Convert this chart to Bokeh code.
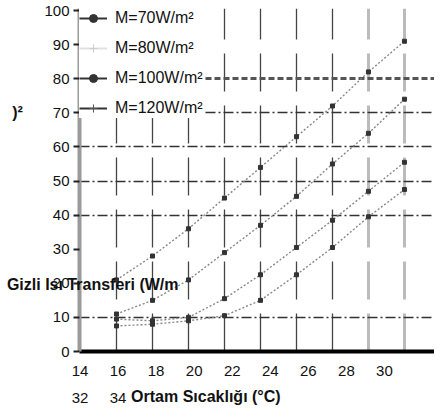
from bokeh.plotting import figure
from bokeh.models import (Range1d, LinearAxis, FixedTicker, Legend, LegendItem,
                          Grid)
from bokeh.embed import file_html
from bokeh.resources import INLINE

# ---------------- data ----------------
temps = [16, 18, 20, 22, 24, 26, 28, 30, 32]
m120 = [21, 28, 36, 45, 54, 63, 72, 82, 91]
m100 = [11, 15, 21, 29, 37, 45.5, 55, 64, 74]
m80 = [9.5, 9, 10, 15.5, 22.5, 30.5, 38.5, 47, 55.5]
m70 = [7.5, 8, 9, 10.5, 15, 22.5, 30.5, 39.5, 47.5]
legend_labels = ["M=70W/m²", "M=80W/m²", "M=100W/m²", "M=120W/m²"]
x_ticks = [14, 16, 18, 20, 22, 24, 26, 28, 30]
x_ticks_wrapped = ["32", "34"]
y_ticks = [0, 10, 20, 30, 40, 50, 60, 70, 80, 90, 100]
x_title = "Ortam Sıcaklığı (°C)"
y_title = "Gizli Isı Transferi (W/m"
y_title_tail = ")²"
dark_grid_x = [16, 18, 20, 22, 24, 26, 28]
light_grid_x = [30, 32]
grid_y = [10, 40, 50, 60, 70]
thick_grid_y = [80]

FONT = "Liberation Sans"
NB = "\u00a0"
W, H = 434, 407

p = figure(width=W, height=H, output_backend="svg", toolbar_location=None,
           x_range=Range1d(13.944, 33.67), y_range=Range1d(0, 100.6),
           min_border_left=79, min_border_right=0, min_border_top=8,
           min_border_bottom=54, x_axis_location=None)
p.outline_line_color = None
p.background_fill_color = "white"
p.border_fill_color = "white"
p.xgrid.visible = False
p.ygrid.visible = False

# label axis (tick labels are slightly stretched vs. the data grid in the original)
p.extra_x_ranges = {"lab": Range1d(13.974, 32.63)}
xax = LinearAxis(x_range_name="lab", ticker=FixedTicker(ticks=x_ticks))
xax.axis_line_color = "black"
xax.axis_line_width = 4
xax.major_tick_line_color = None
xax.minor_tick_line_color = None
xax.major_label_standoff = 8
xax.major_label_text_font = FONT
xax.major_label_text_font_size = "15px"
xax.major_label_text_color = "#111"
p.add_layout(xax, "below")

# wrapped second row of the x axis: "32  34  Ortam Sıcaklığı (°C)"
xax2 = LinearAxis(x_range_name="lab", ticker=FixedTicker(ticks=x_ticks[:2]),
                  major_label_overrides={t: s for t, s in zip(x_ticks[:2], x_ticks_wrapped)})
xax2.axis_line_color = None
xax2.major_tick_line_color = None
xax2.minor_tick_line_color = None
xax2.major_label_standoff = 8
xax2.major_label_text_font = FONT
xax2.major_label_text_font_size = "15px"
xax2.major_label_text_color = "#111"
xax2.axis_label_text_font = FONT
xax2.axis_label_text_font_size = "16px"
xax2.axis_label_text_font_style = "bold"
xax2.axis_label_text_color = "#111"
xax2.axis_label_standoff = -18
xax2.axis_label = x_title + NB * 23
p.add_layout(xax2, "below")

yax = p.yaxis[0]
yax.ticker = FixedTicker(ticks=y_ticks)
yax.axis_line_color = "#9a9a9a"
yax.axis_line_width = 4
yax.major_tick_out = 6
yax.major_tick_in = 0
yax.major_tick_line_color = "#222"
yax.major_tick_line_width = 2
yax.minor_tick_line_color = None
yax.major_label_standoff = 4
yax.major_label_text_font = FONT
yax.major_label_text_font_size = "15px"
yax.major_label_text_color = "#111"

# horizontal y title (drawn as labels of an extra, line-less left axis)
ytitle_pos = [19.6, 70.0]
yax2 = LinearAxis(ticker=FixedTicker(ticks=ytitle_pos),
                  major_label_overrides={ytitle_pos[0]: y_title,
                                         ytitle_pos[1]: y_title_tail + NB * 35})
yax2.axis_line_color = None
yax2.major_tick_line_color = None
yax2.minor_tick_line_color = None
yax2.major_tick_out = 0
yax2.major_label_standoff = -137
yax2.major_label_text_font = FONT
yax2.major_label_text_font_size = "16px"
yax2.major_label_text_font_style = "bold"
yax2.major_label_text_color = "#111"
p.add_layout(yax2, "left")

# grids
p.add_layout(Grid(dimension=0, ticker=FixedTicker(ticks=dark_grid_x),
                  grid_line_color="#444", grid_line_width=1.3,
                  grid_line_dash="38 14"))
p.add_layout(Grid(dimension=0, ticker=FixedTicker(ticks=light_grid_x),
                  grid_line_color="#bbb", grid_line_width=3,
                  grid_line_dash="38 14"))
p.add_layout(Grid(dimension=1, ticker=FixedTicker(ticks=grid_y),
                  grid_line_color="#333", grid_line_width=1.3,
                  grid_line_dash="10 3 2 3"))
p.add_layout(Grid(dimension=1, ticker=FixedTicker(ticks=thick_grid_y),
                  grid_line_color="#555", grid_line_width=3,
                  grid_line_dash="6 3"))

# curves
series = [m70, m80, m100, m120]
for ys in series:
    p.line(temps, ys, line_color="#888", line_width=1.4, line_dash="2 2")
    p.scatter(temps, ys, marker="square", size=4, color="#333")

# legend-only renderers (hidden on the plot, shown in the legend)
styles = [("circle", 7, "#333", "#333"),
          ("cross", 6, "#ccc", "#e0e0e0"),
          ("circle", 3, "#333", "#333"),
          ("cross", 7, "#555", "#333")]
items = []
for lab, ys, (mk, sz, mc, lc) in zip(legend_labels, series, styles):
    r1 = p.line(temps, ys, line_color=lc, line_width=2, visible=False)
    r2 = p.scatter(temps, ys, marker=mk, size=sz, color=mc, visible=False)
    items.append(LegendItem(label=lab, renderers=[r1, r2]))

leg = Legend(items=items, location="top_left", margin=0, padding=5,
             spacing=10, glyph_width=28, glyph_height=20, label_height=20,
             label_standoff=8, label_text_font=FONT,
             label_text_font_size="16px", label_text_color="#111",
             border_line_color=None, background_fill_color="white",
             background_fill_alpha=1, inactive_fill_alpha=0)
p.add_layout(leg)

open("out.html", "w").write(file_html(p, INLINE))
